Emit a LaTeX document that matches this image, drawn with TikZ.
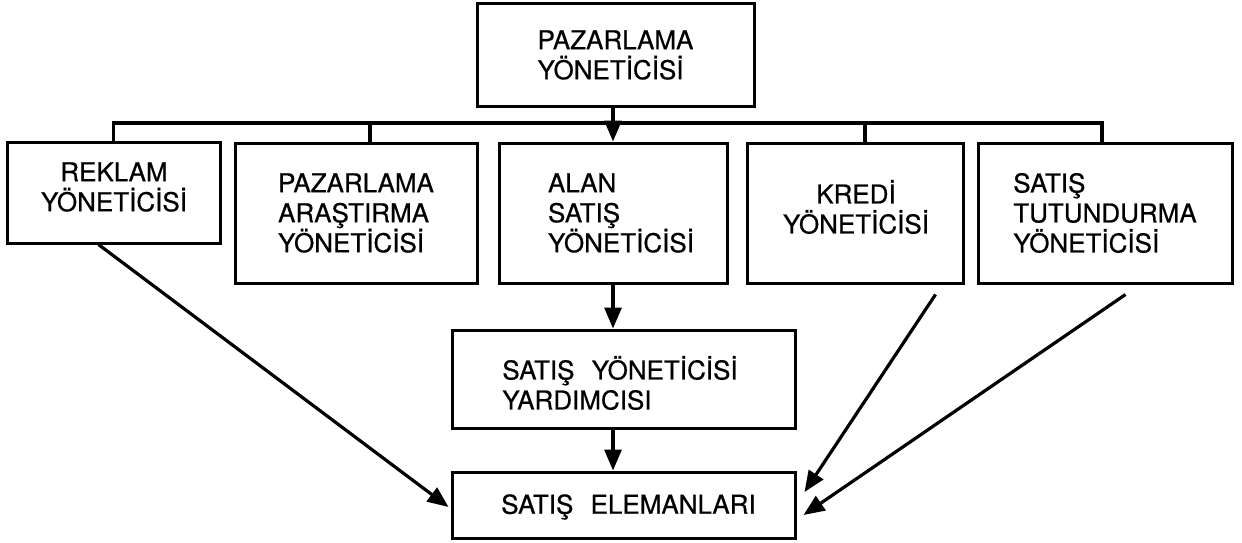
\documentclass[tikz,border=0pt]{standalone}
\usepackage{fontspec}
\setmainfont{TeX Gyre Heros}[FakeBold=0.6]
\usetikzlibrary{arrows.meta,calc}
\begin{document}
\begin{tikzpicture}[x=1pt,y=-1pt,
  box/.style={draw, line width=3pt, inner sep=0pt, font=\fontsize{26}{30}\selectfont},
  lbl/.style={inner sep=0pt, align=left, font=\fontsize{26}{30}\selectfont},
  link/.style={line width=3.2pt},
  arr/.style={line width=3.2pt, -{Triangle[length=21pt,width=17pt]}},
]
\useasboundingbox (0,0) rectangle (1242,543);

% top of the hierarchy
\node[box, align=left, minimum width=277, minimum height=102] (top) at (615.5,55)
  {PAZARLAMA\\YÖNETİCİSİ};

% second level
\node[box, minimum width=213, minimum height=101] (reklam) at (113.5,192.5) {};
\node[lbl, align=center] (reklamtxt) at (114,187) {REKLAM\\YÖNETİCİSİ};
\node[box, align=left, minimum width=242, minimum height=140] (paz) at (356,213)
  {PAZARLAMA\\ARAŞTIRMA\\YÖNETİCİSİ};
\node[box, minimum width=228, minimum height=140] (alan) at (613,213) {};
\node[lbl] (alantxt) at (621,213) {ALAN\\SATIŞ\\YÖNETİCİSİ};
\node[box, minimum width=216, minimum height=140] (kredi) at (855,213) {};
\node[lbl, align=center] (kreditxt) at (856,207) {KREDİ\\YÖNETİCİSİ};
\node[box, align=left, minimum width=254, minimum height=140] (tut) at (1105,213)
  {SATIŞ\\TUTUNDURMA\\YÖNETİCİSİ};

% assistant and sales staff
\node[box, minimum width=343, minimum height=98] (yard) at (623.5,379) {};
\node[lbl] (yardtxt) at (620,383) {SATIŞ\hspace{10pt} YÖNETİCİSİ\\YARDIMCISI};
\node[box, minimum width=343, minimum height=66] (elem) at (623.5,505) {};
\node[lbl] (elemtxt) at (628.5,507) {SATIŞ\hspace{10pt} ELEMANLARI};

% distribution bus under the top box
\coordinate (busL) at (113.5,123);
\coordinate (busR) at (1102,123);
\coordinate (hub)  at (613,123);
\coordinate (dropP) at (370,123);
\coordinate (dropK) at (865,123);

\draw[link] (reklam.north) -- (reklam.north |- busL) -- (busR) -- (busR |- tut.north);
\draw[link] (dropP) -- (dropP |- paz.north);
\draw[link] (dropK) -- (dropK |- kredi.north);
\draw[link] (hub |- top.south) -- (hub);
\draw[arr] (hub) -- (alan.north);

% vertical chain
\draw[arr] (alan.south) -- (alan.south |- yard.north);
\draw[arr] (alan.south |- yard.south) -- (alan.south |- elem.north);

% diagonal links to the sales staff
\draw[arr] ($(reklam.south west)+(93,0)$) -- ($(elem.west)+(-2,2)$);
\draw[arr] ($(kredi.south west)+(190,10)$) -- ($(elem.east)+(8,-13)$);
\draw[arr] ($(tut.south west)+(149,10)$) -- ($(elem.east)+(7,10)$);
\end{tikzpicture}
\end{document}
